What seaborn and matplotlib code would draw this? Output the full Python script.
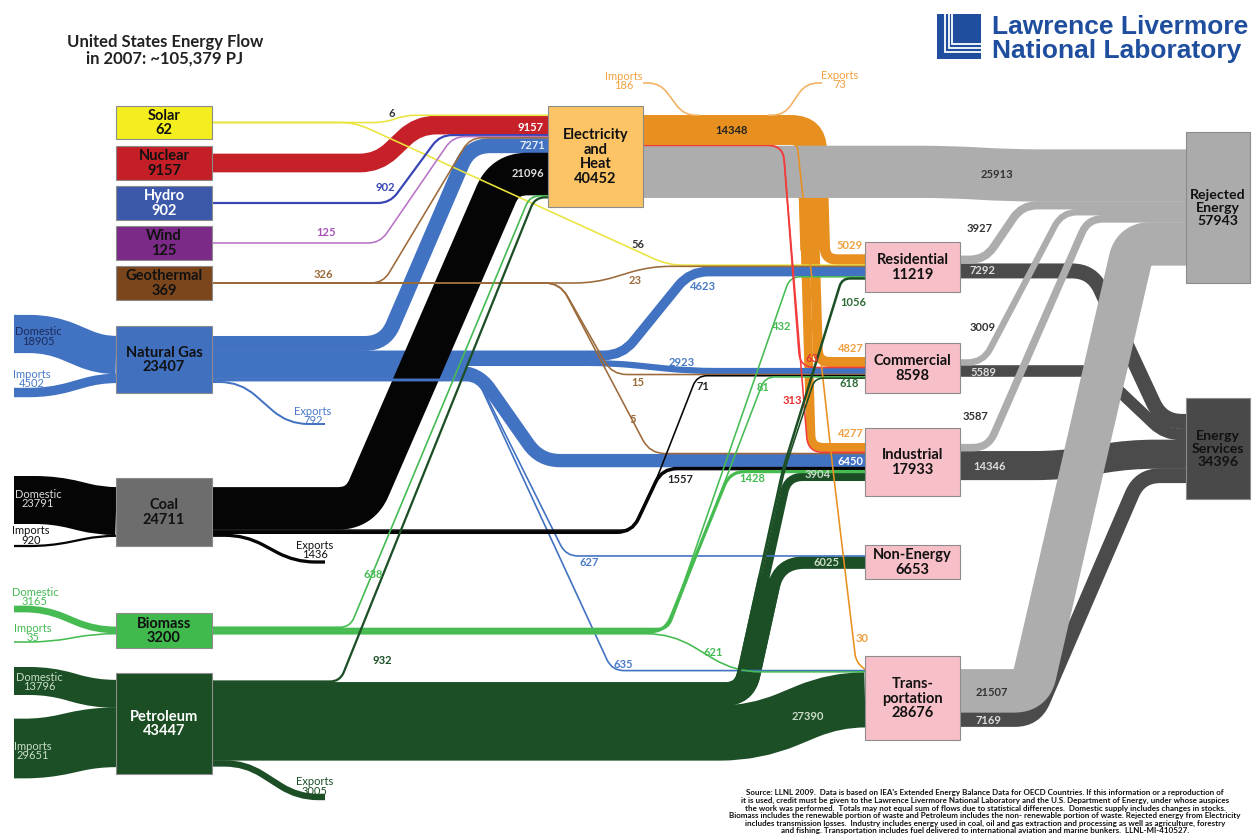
import numpy as np
import matplotlib
matplotlib.use("Agg")
import matplotlib.pyplot as plt
from matplotlib.path import Path
from matplotlib.patches import PathPatch, Rectangle
import seaborn as sns

sns.set_theme(style="white")
plt.rcParams["font.family"] = ["Lato", "DejaVu Sans"]

# ------------------------------------------------------------------ data (PJ)
source_names = ["Solar", "Nuclear", "Hydro", "Wind", "Geothermal",
                "Natural Gas", "Coal", "Biomass", "Petroleum"]
source_totals = [62, 9157, 902, 125, 369, 23407, 24711, 3200, 43447]
to_electricity = [6, 9157, 902, 125, 326, 7271, 21096, 638, 932]

sector_names = ["Residential", "Commercial", "Industrial", "Non-Energy", "Transportation"]
sector_totals = [11219, 8598, 17933, 6653, 28676]

electricity_total = 40452
electricity_delivered = 14348
electricity_rejected = 25913
electricity_imports, electricity_exports = 186, 73
electricity_use = [5029, 4827, 4277, 0, 30]
heat_use = [0, 63, 313, 0, 0]

solar_use = [56, 0, 0, 0, 0]
geothermal_use = [23, 15, 5, 0, 0]
gas_use = [4623, 2923, 6450, 627, 635]
coal_use = [0, 71, 1557, 0, 0]
biomass_use = [432, 81, 1428, 0, 621]
petroleum_use = [1056, 618, 3904, 6025, 27390]

rejected_by_sector = [3927, 3009, 3587, 0, 21507]
services_by_sector = [7292, 5589, 14346, 0, 7169]
rejected_total = 57943
services_total = 34396

trade_fuels = ["Natural Gas", "Coal", "Biomass", "Petroleum"]
domestic = [18905, 23791, 3165, 13796]
imports = [4502, 920, 35, 29651]
exports = [792, 1436, 0, 3005]

# ------------------------------------------------------------------ flow table
E = "Electricity"
flows = {}
for s, v in zip(source_names, to_electricity):
    flows[(s, E)] = v
for s, row in [("Solar", solar_use), ("Geothermal", geothermal_use),
               ("Natural Gas", gas_use), ("Coal", coal_use),
               ("Biomass", biomass_use), ("Petroleum", petroleum_use),
               (E, electricity_use), ("Heat", heat_use)]:
    for t, v in zip(sector_names, row):
        if v:
            flows[(s, t)] = v
flows[(E, "Rejected")] = electricity_rejected
for t, v in zip(sector_names, rejected_by_sector):
    if v:
        flows[(t, "Rejected")] = v
for t, v in zip(sector_names, services_by_sector):
    if v:
        flows[(t, "Services")] = v
for f, d, i, e in zip(trade_fuels, domestic, imports, exports):
    flows[("Domestic " + f, f)] = d
    flows[("Imports " + f, f)] = i
    if e:
        flows[(f, "Exports " + f)] = e

# ------------------------------------------------------------------ layout
W, H, DPI = 1258, 834, 100
SCALE = 0.002          # pixels per PJ
MINW = 1.2


def bw(v):
    return max(v * SCALE, MINW)


boxes = {
    "Solar": (116, 106, 212, 139), "Nuclear": (116, 146, 212, 180),
    "Hydro": (116, 186, 212, 220), "Wind": (116, 226, 212, 260),
    "Geothermal": (116, 266, 212, 300), "Natural Gas": (116, 326, 212, 393),
    "Coal": (116, 478, 212, 546), "Biomass": (116, 613, 212, 648),
    "Petroleum": (116, 673, 212, 774), E: (548, 106, 643, 207),
    "Residential": (865, 242, 960, 292), "Commercial": (865, 343, 960, 393),
    "Industrial": (865, 428, 960, 496), "Non-Energy": (865, 545, 960, 579),
    "Transportation": (865, 656, 960, 740),
    "Rejected": (1186, 132, 1250, 283), "Services": (1186, 398, 1250, 499),
}


def box_of(name):
    return E if name == "Heat" else name


out_order = {
    "Solar": [[("Solar", E), ("Solar", "Residential")]],
    "Nuclear": [("Nuclear", E)], "Hydro": [("Hydro", E)], "Wind": [("Wind", E)],
    "Geothermal": [[("Geothermal", E), ("Geothermal", "Residential"),
                    ("Geothermal", "Commercial"), ("Geothermal", "Industrial")]],
    "Natural Gas": [("Natural Gas", E), ("Natural Gas", "Residential"),
                    ("Natural Gas", "Commercial"), ("Natural Gas", "Industrial"),
                    ("Natural Gas", "Non-Energy"), ("Natural Gas", "Transportation"),
                    ("Natural Gas", "Exports Natural Gas")],
    "Coal": [("Coal", E), ("Coal", "Commercial"), ("Coal", "Industrial"),
             ("Coal", "Exports Coal")],
    "Biomass": [("Biomass", E), ("Biomass", "Residential"), ("Biomass", "Commercial"),
                ("Biomass", "Industrial"), ("Biomass", "Transportation")],
    "Petroleum": [("Petroleum", E), ("Petroleum", "Residential"),
                  ("Petroleum", "Commercial"), ("Petroleum", "Industrial"),
                  ("Petroleum", "Non-Energy"), ("Petroleum", "Transportation"),
                  ("Petroleum", "Exports Petroleum")],
    E: [(E, "Residential"), (E, "Commercial"), (E, "Industrial"), (E, "Transportation"),
        [("Heat", "Commercial"), ("Heat", "Industrial")], (E, "Rejected")],
}
for s in ["Residential", "Commercial", "Industrial", "Transportation"]:
    out_order[s] = [(s, "Rejected"), (s, "Services")]

in_order = {
    E: [(s, E) for s in source_names],
    "Residential": [(E, "Residential"), ("Solar", "Residential"),
                    ("Geothermal", "Residential"), ("Natural Gas", "Residential"),
                    ("Biomass", "Residential"), ("Petroleum", "Residential")],
    "Commercial": [(E, "Commercial"), ("Heat", "Commercial"), ("Natural Gas", "Commercial"),
                   ("Geothermal", "Commercial"), ("Coal", "Commercial"),
                   ("Biomass", "Commercial"), ("Petroleum", "Commercial")],
    "Industrial": [(E, "Industrial"), ("Heat", "Industrial"), ("Geothermal", "Industrial"),
                   ("Natural Gas", "Industrial"), ("Coal", "Industrial"),
                   ("Biomass", "Industrial"), ("Petroleum", "Industrial")],
    "Non-Energy": [("Natural Gas", "Non-Energy"), ("Petroleum", "Non-Energy")],
    "Transportation": [(E, "Transportation"), ("Natural Gas", "Transportation"),
                       ("Biomass", "Transportation"), ("Petroleum", "Transportation")],
    "Rejected": [(E, "Rejected")] + [(s, "Rejected") for s in
                                      ["Residential", "Commercial", "Industrial", "Transportation"]],
    "Services": [(s, "Services") for s in
                 ["Residential", "Commercial", "Industrial", "Transportation"]],
}
for f in trade_fuels:
    in_order[f] = [("Domestic " + f, f), ("Imports " + f, f)]

port_out, port_in = {}, {}


def stack(node, items, store):
    x0, y0, x1, y1 = boxes[node]
    groups = [it if isinstance(it, list) else [it] for it in items]
    widths = [bw(sum(flows[k] for k in g)) for g in groups]
    top = (y0 + y1) / 2 - sum(widths) / 2
    for g, wd in zip(groups, widths):
        for k in g:
            store[k] = top + wd / 2
        top += wd


for n, items in out_order.items():
    stack(n, items, port_out)
for n, items in in_order.items():
    stack(n, items, port_in)

# routes: waypoints of each band's centre line ("S"/"T" = source/target port)
S, T = "S", "T"
routes = {
    ("Solar", E): ([(S, S), (385, S), (405, T), (T, T)], 10),
    ("Solar", "Residential"): ([(S, S), (355, S), (668, T), (T, T)], 15),
    ("Nuclear", E): ([(S, S), (378, S), (418, T), (T, T)], 18),
    ("Hydro", E): ([(S, S), (390, S), (440, T), (T, T)], 12),
    ("Wind", E): ([(S, S), (380, S), (453, T), (T, T)], 12),
    ("Geothermal", E): ([(S, S), (383, S), (470, T), (T, T)], 12),
    ("Geothermal", "Residential"): ([(S, S), (595, S), (650, T), (T, T)], 20),
    ("Geothermal", "Commercial"): ([(S, S), (560, S), (612, T), (T, T)], 15),
    ("Geothermal", "Industrial"): ([(S, S), (560, S), (650, T), (T, T)], 15),
    ("Natural Gas", E): ([(S, S), (385, S), (470, T), (T, T)], 20),
    ("Natural Gas", "Residential"): ([(S, S), (622, S), (690, T), (T, T)], 18),
    ("Natural Gas", "Commercial"): ([(S, S), (612, S), (690, T), (T, T)], 25),
    ("Natural Gas", "Industrial"): ([(S, S), (478, S), (540, T), (T, T)], 20),
    ("Natural Gas", "Non-Energy"): ([(S, S), (478, S), (566, T), (T, T)], 12),
    ("Natural Gas", "Transportation"): ([(S, S), (478, S), (612, T), (T, T)], 12),
    ("Natural Gas", "Exports Natural Gas"): ([(S, S), (240, S), (288, 424), (325, 424)], 20),
    ("Coal", E): ([(S, S), (360, S), (505, T), (T, T)], 22),
    ("Coal", "Commercial"): ([(S, S), (632, S), (657, 478), (697, T), (T, T)], 10),
    ("Coal", "Industrial"): ([(S, S), (632, S), (662, T), (T, T)], 15),
    ("Coal", "Exports Coal"): ([(S, S), (245, S), (295, 562), (325, 562)], 20),
    ("Biomass", E): ([(S, S), (350, S), (530, T), (T, T)], 10),
    ("Biomass", "Residential"): ([(S, S), (668, S), (790, T), (T, T)], 10),
    ("Biomass", "Commercial"): ([(S, S), (668, S), (765, T), (T, T)], 10),
    ("Biomass", "Industrial"): ([(S, S), (665, S), (730, T), (T, T)], 15),
    ("Biomass", "Transportation"): ([(S, S), (672, S), (735, T), (T, T)], 25),
    ("Petroleum", E): ([(S, S), (340, S), (535, T), (T, T)], 10),
    ("Petroleum", "Transportation"): ([(S, S), (755, S), (835, T), (T, T)], 35),
    ("Petroleum", "Exports Petroleum"): ([(S, S), (245, S), (298, 797), (325, 797)], 20),
    ("Heat", "Commercial"): ([(S, S), (783, S), (800, T), (T, T)], 15),
    ("Heat", "Industrial"): ([(S, S), (783, S), (808, T), (T, T)], 15),
    (E, "Rejected"): ([(S, S), (950, S), (1010, T), (T, T)], 30),
    ("Residential", "Rejected"): ([(S, S), (985, S), (1022, T), (T, T)], 15),
    ("Commercial", "Rejected"): ([(S, S), (983, S), (1062, T), (T, T)], 15),
    ("Industrial", "Rejected"): ([(S, S), (988, S), (1088, T), (T, T)], 15),
    ("Transportation", "Rejected"): ([(S, S), (1031, S), (1134, T), (T, T)], 16),
    ("Residential", "Services"): ([(S, S), (1092, S), (1162, T), (T, T)], 20),
    ("Commercial", "Services"): ([(S, S), (1098, S), (1165, T), (T, T)], 15),
    ("Industrial", "Services"): ([(S, S), (1060, S), (1130, T), (T, T)], 25),
    ("Transportation", "Services"): ([(S, S), (1035, S), (1140, T), (T, T)], 20),
    ("Domestic Natural Gas", "Natural Gas"): ([(14, 334), (50, 334), (100, T), (T, T)], 20),
    ("Imports Natural Gas", "Natural Gas"): ([(14, 392.5), (50, 392.5), (100, T), (T, T)], 20),
    ("Domestic Coal", "Coal"): ([(14, 500), (55, 500), (100, T), (T, T)], 20),
    ("Imports Coal", "Coal"): ([(14, 546), (50, 546), (100, T), (T, T)], 20),
    ("Domestic Biomass", "Biomass"): ([(14, 609), (45, 609), (95, T), (T, T)], 20),
    ("Imports Biomass", "Biomass"): ([(14, 642), (50, 642), (95, T), (T, T)], 20),
    ("Domestic Petroleum", "Petroleum"): ([(14, 681), (50, 681), (95, T), (T, T)], 20),
    ("Imports Petroleum", "Petroleum"): ([(14, 748.5), (45, 748.5), (95, T), (T, T)], 20),
}

# delivered electricity: one column bending down towards the sectors
orange_keys = [(E, s) for s in ["Residential", "Commercial", "Industrial", "Transportation"]]
o_top = port_out[orange_keys[0]] - bw(flows[orange_keys[0]]) / 2
o_bot = port_out[orange_keys[-1]] + bw(flows[orange_keys[-1]]) / 2
XR, SLANT = 826, 0.03
for k in orange_keys[:3]:
    y = port_out[k]
    x = XR - (y - o_top)
    routes[k] = ([(S, S), (x, S), (x + SLANT * (port_in[k] - y), T), (T, T)],
                 [6 + (o_bot - y), 12])
k = orange_keys[3]
y = port_out[k]
routes[k] = ([(S, S), (XR - (y - o_top), S), (833, 470), (856, 662), (T, T)], [6, 10, 8])
o_mid = (o_top + o_bot) / 2
o_x = XR - (o_mid - o_top)
extra_bands = [(electricity_delivered, E,
                [(boxes[E][2], o_mid), (o_x, o_mid), (o_x + SLANT * (250 - o_mid), 250)],
                6 + (o_bot - o_mid), 2)]

# petroleum riser feeding buildings, industry and non-energy use
riser_keys = [("Petroleum", s) for s in ["Residential", "Commercial", "Industrial", "Non-Energy"]]
r_top = port_out[riser_keys[0]] - bw(flows[riser_keys[0]]) / 2
r_bot = port_out[riser_keys[-1]] + bw(flows[riser_keys[-1]]) / 2
RX, K = 735, 0.22


def riser_x(y):
    return RX + 0.8 * (y - r_top)


for k in riser_keys[2:]:
    y = port_out[k]
    x = riser_x(y)
    routes[k] = ([(S, S), (x, S), (x + K * (y - port_in[k]), T), (T, T)], 8 + (y - r_top))
for k, xe in [(riser_keys[1], 815), (riser_keys[0], 842)]:
    y = port_out[k]
    x = riser_x(y)
    routes[k] = ([(S, S), (x, S), (x + K * (y - 470), 470), (xe, T), (T, T)], [8 + (y - r_top), 10, 8])
r_mid = (r_top + r_bot) / 2
riser_sum = sum(flows[k] for k in riser_keys)
extra_bands.append((riser_sum, "Petroleum",
                    [(boxes["Petroleum"][2], r_mid), (riser_x(r_mid), r_mid),
                     (riser_x(r_mid) + K * (r_mid - 578), 578)], 8 + (r_mid - r_top), 5))

# electricity trade lines on the top edge of the delivered band
trade_lines = [(electricity_imports, [(643, 83), (660, 83), (684, o_top), (700, o_top)]),
               (electricity_exports, [(768, o_top), (784, o_top), (806, 83), (822, 83)])]

# ------------------------------------------------------------------ colours
band_colors = {
    "Solar": "#ebe43c", "Nuclear": "#c62028", "Hydro": "#3845b4", "Wind": "#b673c6",
    "Geothermal": "#9c6a3a", "Natural Gas": "#4272c2", "Coal": "#050505",
    "Biomass": "#45bb52", "Petroleum": "#1c4f25", E: "#e8901f",
    "Heat": "#f23c3c", "Rejected": "#adadad", "Services": "#4b4b4b",
}
box_colors = {
    "Solar": "#f4ee1e", "Nuclear": "#c41f27", "Hydro": "#3b58ab", "Wind": "#7c2a87",
    "Geothermal": "#7c461c", "Natural Gas": "#4170bf", "Coal": "#6d6d6d",
    "Biomass": "#40b94d", "Petroleum": "#1c4e24", E: "#fdc466",
    "Rejected": "#ababab", "Services": "#494949",
}
SECTOR_FILL = "#f7bfc7"


def flow_color(key):
    s, t = key
    if t in ("Rejected", "Services"):
        return band_colors[t]
    if s.startswith("Domestic ") or s.startswith("Imports "):
        return band_colors[t]
    return band_colors[s]


def flow_z(key, width):
    s, t = key
    if width < 3.2:
        return 6
    if s == E:
        return 3 if t == "Rejected" else 2
    if t == "Services":
        return 3
    if t == "Rejected":
        return 4
    if s in ("Coal", "Petroleum"):
        return 5
    return 4


# ------------------------------------------------------------------ drawing helpers
def rounded_path(pts, r):
    n = len(pts)
    rs = list(r) if isinstance(r, (list, tuple)) else [r] * max(n - 2, 0)
    verts, codes = [pts[0]], [Path.MOVETO]
    for i in range(1, n - 1):
        p0, p1, p2 = (np.asarray(pts[j], float) for j in (i - 1, i, i + 1))
        d1, d2 = p1 - p0, p2 - p1
        l1, l2 = np.hypot(*d1), np.hypot(*d2)
        if l1 < 1e-9 or l2 < 1e-9:
            continue
        rr = min(rs[i - 1], l1 / 2 if i > 1 else l1, l2 / 2 if i < n - 2 else l2)
        a = p1 - d1 / l1 * rr
        b = p1 + d2 / l2 * rr
        verts += [tuple(a), tuple(p1), tuple(b)]
        codes += [Path.LINETO, Path.CURVE3, Path.CURVE3]
    verts.append(pts[-1])
    codes.append(Path.LINETO)
    return Path(verts, codes)


def resolve(key, pts):
    s, t = key
    out = []
    for x, y in pts:
        if x == S:
            x = boxes[box_of(s)][2]
        if x == T:
            x = boxes[t][0]
        if y == S:
            y = port_out[key]
        if y == T:
            y = port_in[key]
        out.append((float(x), float(y)))
    return out


fig = plt.figure(figsize=(W / DPI, H / DPI), dpi=DPI, facecolor="white")
ax = fig.add_axes([0, 0, 1, 1])
ax.set_xlim(0, W)
ax.set_ylim(H, 0)
ax.axis("off")


def draw_band(pts, value, color, r, z):
    width_px = bw(value)
    lw = (width_px + 0.4) * 72.0 / DPI
    ax.add_patch(PathPatch(rounded_path(pts, r), facecolor="none", edgecolor=color,
                           lw=lw, capstyle="butt", joinstyle="round", zorder=z))


for value, ckey, pts, r, z in extra_bands:
    draw_band(pts, value, band_colors[ckey], r, z)

for key, (spec, r) in routes.items():
    v = flows[key]
    draw_band(resolve(key, spec), v, flow_color(key), r, flow_z(key, bw(v)))

for v, pts in trade_lines:
    draw_band(pts, v, "#f3b060", 12, 6)

# ------------------------------------------------------------------ boxes
def draw_box(name, fill, text, tcolor, size=10.5):
    x0, y0, x1, y1 = boxes[name]
    ax.add_patch(Rectangle((x0, y0), x1 - x0, y1 - y0, facecolor=fill,
                           edgecolor="#8c8c8c", lw=0.8, zorder=10))
    ax.text((x0 + x1) / 2, (y0 + y1) / 2 + 0.5, text, ha="center", va="center",
            color=tcolor, fontsize=size, fontweight="bold", linespacing=1.06, zorder=11)


for name, total in zip(source_names, source_totals):
    tc = "white" if name in ("Hydro", "Petroleum") else "#111111"
    draw_box(name, box_colors[name], f"{name}\n{total}", tc)
draw_box(E, box_colors[E], f"Electricity\nand\nHeat\n{electricity_total}", "#111111")
sector_titles = {"Transportation": "Trans-\nportation"}
for name, total in zip(sector_names, sector_totals):
    draw_box(name, SECTOR_FILL, f"{sector_titles.get(name, name)}\n{total}", "#111111")
draw_box("Rejected", box_colors["Rejected"], f"Rejected\nEnergy\n{rejected_total}", "#111111", 10.2)
draw_box("Services", box_colors["Services"], f"Energy\nServices\n{services_total}", "#111111", 10.2)

# ------------------------------------------------------------------ value labels
value_labels = {
    ("Solar", E): (392, 113, "#333333"),
    ("Hydro", E): (385, 187, "#3845b4"),
    ("Wind", E): (326, 232, "#a450b8"),
    ("Geothermal", E): (323, 274, "#9c6a3a"),
    ("Nuclear", E): (530, 127, "#ffffff"),
    ("Natural Gas", E): (532, 145, "#e6edf8"),
    ("Coal", E): (528, 173, "#dddddd"),
    ("Biomass", E): (373, 575, "#45bb52"),
    ("Petroleum", E): (382, 661, "#1c4f25"),
    (E, "Rejected"): (997, 174, "#333333"),
    ("Solar", "Residential"): (638, 244, "#333333"),
    ("Geothermal", "Residential"): (635, 280, "#9c6a3a"),
    ("Geothermal", "Commercial"): (638, 382, "#9c6a3a"),
    ("Geothermal", "Industrial"): (633, 419, "#9c6a3a"),
    ("Natural Gas", "Residential"): (703, 287, "#4a7ac8"),
    ("Natural Gas", "Commercial"): (682, 362, "#4a7ac8"),
    ("Natural Gas", "Industrial"): (850, 461, "#ffffff"),
    ("Natural Gas", "Non-Energy"): (589, 563, "#4a7ac8"),
    ("Natural Gas", "Transportation"): (623, 664, "#4a7ac8"),
    ("Coal", "Commercial"): (703, 386, "#222222"),
    ("Coal", "Industrial"): (680, 479, "#222222"),
    ("Biomass", "Residential"): (782, 326, "#45bb52"),
    ("Biomass", "Commercial"): (763, 387, "#45bb52"),
    ("Biomass", "Industrial"): (752, 478, "#45bb52"),
    ("Biomass", "Transportation"): (713, 653, "#45bb52"),
    ("Petroleum", "Residential"): (853, 303, "#2d6b36"),
    ("Petroleum", "Commercial"): (849, 383, "#2d6b36"),
    ("Petroleum", "Industrial"): (818, 474, "#c9dcc9"),
    ("Petroleum", "Non-Energy"): (827, 563, "#c9dcc9"),
    ("Petroleum", "Transportation"): (808, 716, "#c9dcc9"),
    (E, "Residential"): (850, 245, "#f0a040"),
    (E, "Commercial"): (851, 348, "#f0a040"),
    (E, "Industrial"): (851, 433, "#f0a040"),
    (E, "Transportation"): (862, 638, "#f0a040"),
    ("Heat", "Commercial"): (812, 358, "#e83030"),
    ("Heat", "Industrial"): (792, 400, "#e83030"),
    ("Residential", "Rejected"): (980, 228, "#333333"),
    ("Commercial", "Rejected"): (983, 327, "#333333"),
    ("Industrial", "Rejected"): (975, 416, "#333333"),
    ("Transportation", "Rejected"): (992, 692, "#333333"),
    ("Residential", "Services"): (983, 271, "#dddddd"),
    ("Commercial", "Services"): (983, 372, "#dddddd"),
    ("Industrial", "Services"): (990, 466, "#dddddd"),
    ("Transportation", "Services"): (988, 720, "#dddddd"),
}
for key, (x, y, c) in value_labels.items():
    ax.text(x, y, f"{flows[key]}", ha="center", va="center", color=c,
            fontsize=8, fontweight="bold", zorder=12)
ax.text(732, 130, f"{electricity_delivered}", ha="center", va="center",
        color="#222222", fontsize=8, fontweight="bold", zorder=12)

trade_labels = {
    ("Domestic Natural Gas", "Natural Gas"): ("Domestic", 38, 336.5, "#1b2a5a"),
    ("Imports Natural Gas", "Natural Gas"): ("Imports", 32, 379, "#4a7ac8"),
    ("Natural Gas", "Exports Natural Gas"): ("Exports", 313, 416, "#4a7ac8"),
    ("Domestic Coal", "Coal"): ("Domestic", 38, 499, "#dddddd"),
    ("Imports Coal", "Coal"): ("Imports", 31, 535.5, "#111111"),
    ("Coal", "Exports Coal"): ("Exports", 315, 550, "#111111"),
    ("Domestic Biomass", "Biomass"): ("Domestic", 35, 597, "#45bb52"),
    ("Imports Biomass", "Biomass"): ("Imports", 33, 633, "#45bb52"),
    ("Domestic Petroleum", "Petroleum"): ("Domestic", 39, 682, "#c9dcc9"),
    ("Imports Petroleum", "Petroleum"): ("Imports", 33, 751, "#c9dcc9"),
    ("Petroleum", "Exports Petroleum"): ("Exports", 315, 786.5, "#1c4f25"),
}
for key, (word, x, y, c) in trade_labels.items():
    ax.text(x, y, f"{word}\n{flows[key]}", ha="center", va="center", color=c,
            fontsize=8, linespacing=0.82, zorder=12)
ax.text(624, 81, f"Imports\n{electricity_imports}", ha="center", va="center",
        color="#f0a040", fontsize=8, linespacing=0.82, zorder=12)
ax.text(840, 80, f"Exports\n{electricity_exports}", ha="center", va="center",
        color="#f0a040", fontsize=8, linespacing=0.82, zorder=12)

# ------------------------------------------------------------------ title, logo, notes
ax.text(165, 42, "United States Energy Flow", ha="center", va="center",
        fontsize=12, fontweight="bold", color="#222222", zorder=12)
ax.text(165, 59, "in 2007: ~105,379 PJ", ha="center", va="center",
        fontsize=12, fontweight="bold", color="#222222", zorder=12)

LOGO = "#1f4e9e"
ax.add_patch(Rectangle((937, 14), 44, 45, facecolor=LOGO, edgecolor="none", zorder=12))
for i in range(3):
    xi, yi = 945.0 + 3.6 * i, 51.5 - 3.6 * i
    ax.plot([xi, xi, 981], [14, yi, yi], color="white", lw=1.3, solid_joinstyle="miter",
            solid_capstyle="butt", zorder=13)
ax.text(992, 34, "Lawrence Livermore", ha="left", va="baseline", color=LOGO,
        fontsize=19, fontweight="bold", family=["Liberation Sans", "DejaVu Sans"], zorder=12)
ax.text(992, 58, "National Laboratory", ha="left", va="baseline", color=LOGO,
        fontsize=19, fontweight="bold", family=["Liberation Sans", "DejaVu Sans"], zorder=12)

notes = [
    "Source: LLNL 2009.  Data is based on IEA's Extended Energy Balance Data for OECD Countries. If this information or a reproduction of",
    "it is used, credit must be given to the Lawrence Livermore National Laboratory and the U.S. Department of Energy, under whose auspices",
    "the work was performed.  Totals may not equal sum of flows due to statistical differences.  Domestic supply includes changes in stocks.",
    "Biomass includes the renewable portion of waste and Petroleum includes the non- renewable portion of waste. Rejected energy from Electricity",
    "includes transmission losses.  Industry includes energy used in coal, oil and gas extraction and processing as well as agriculture, forestry",
    "and fishing. Transportation includes fuel delivered to international aviation and marine bunkers.  LLNL-MI-410527.",
]
for i, line in enumerate(notes):
    ax.text(985, 793 + 7.5 * i, line, ha="center", va="center", fontsize=5.8,
            fontweight="bold", color="#111111", zorder=12)

fig.savefig("out.png", dpi=DPI, facecolor="white")
